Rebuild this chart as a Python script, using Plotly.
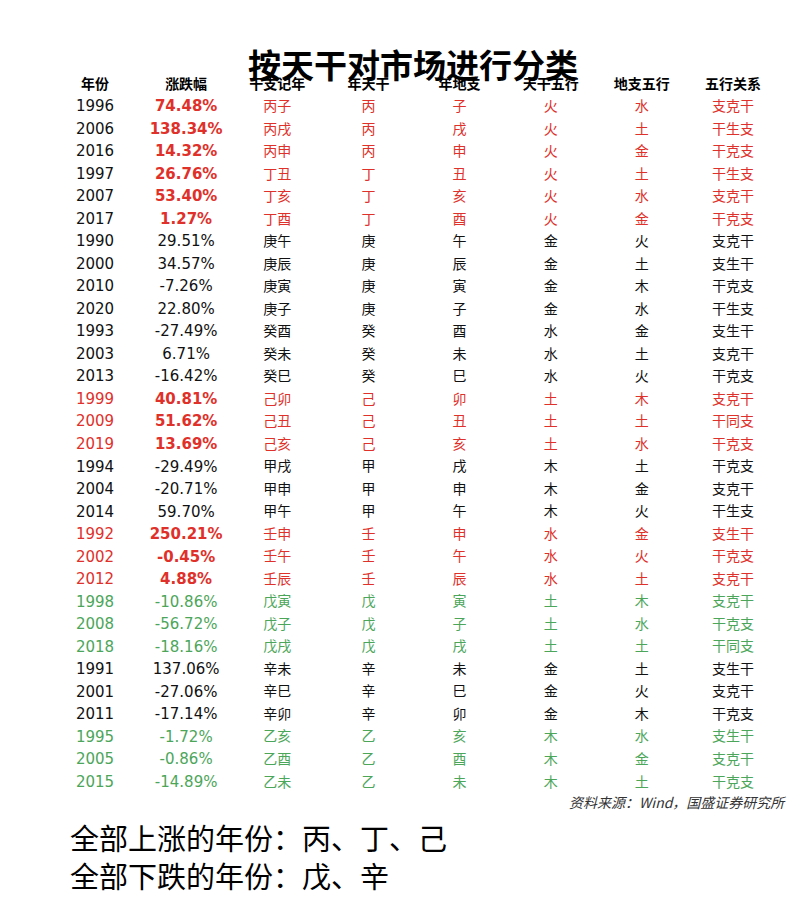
import plotly.graph_objects as go

headers = ["年份", "涨跌幅", "干支记年", "年天干", "年地支", "天干五行", "地支五行", "五行关系"]
years = [1996, 2006, 2016, 1997, 2007, 2017, 1990, 2000, 2010, 2020, 1993, 2003, 2013,
         1999, 2009, 2019, 1994, 2004, 2014, 1992, 2002, 2012, 1998, 2008, 2018,
         1991, 2001, 2011, 1995, 2005, 2015]
changes = ["74.48%", "138.34%", "14.32%", "26.76%", "53.40%", "1.27%", "29.51%", "34.57%",
           "-7.26%", "22.80%", "-27.49%", "6.71%", "-16.42%", "40.81%", "51.62%", "13.69%",
           "-29.49%", "-20.71%", "59.70%", "250.21%", "-0.45%", "4.88%", "-10.86%", "-56.72%",
           "-18.16%", "137.06%", "-27.06%", "-17.14%", "-1.72%", "-0.86%", "-14.89%"]
ganzhi = ["丙子", "丙戌", "丙申", "丁丑", "丁亥", "丁酉", "庚午", "庚辰", "庚寅", "庚子", "癸酉",
          "癸未", "癸巳", "己卯", "己丑", "己亥", "甲戌", "甲申", "甲午", "壬申", "壬午", "壬辰",
          "戊寅", "戊子", "戊戌", "辛未", "辛巳", "辛卯", "乙亥", "乙酉", "乙未"]
tg_wx = ["火", "火", "火", "火", "火", "火", "金", "金", "金", "金", "水", "水", "水", "土", "土",
         "土", "木", "木", "木", "水", "水", "水", "土", "土", "土", "金", "金", "金", "木", "木", "木"]
dz_wx = ["水", "土", "金", "土", "水", "金", "火", "土", "木", "水", "金", "土", "火", "木", "土",
         "水", "土", "金", "火", "金", "火", "土", "木", "水", "土", "土", "火", "木", "水", "金", "土"]
relation = ["支克干", "干生支", "干克支", "干生支", "支克干", "干克支", "支克干", "支生干", "干克支",
            "干生支", "支生干", "支克干", "干克支", "支克干", "干同支", "干克支", "干克支", "支克干",
            "干生支", "支生干", "干克支", "支克干", "支克干", "干克支", "干同支", "支生干", "支克干",
            "干克支", "支生干", "支克干", "干克支"]
# row group colour: r = red, g = green, k = black
groups = ["r"] * 6 + ["k"] * 7 + ["r"] * 3 + ["k"] * 3 + ["r"] * 3 + ["g"] * 3 + ["k"] * 3 + ["g"] * 3

RED, GREEN, BLACK = "#e0302a", "#4ca65a", "#111111"
cmap = {"r": RED, "g": GREEN, "k": BLACK}
row_col = [cmap[g] for g in groups]
year_col = [RED if (g == "r" and i >= 13) else (GREEN if g == "g" else BLACK) for i, g in enumerate(groups)]
chg_txt = [f"<b>{c}</b>" if g == "r" else c for c, g in zip(changes, groups)]

cols = [[str(y) for y in years], chg_txt, ganzhi, [s[0] for s in ganzhi], [s[1] for s in ganzhi],
        tg_wx, dz_wx, relation]
colors = [year_col, row_col] + [row_col] * 6
rows = list(range(1, len(years) + 1))

W, H = 810, 922
fig = go.Figure()
for j, h in enumerate(headers):
    fig.add_trace(go.Scatter(x=[j], y=[0], mode="text", text=[f"<b>{h}</b>"], hoverinfo="skip",
                             textfont=dict(family="Noto Sans CJK SC", size=14, color="black")))
    latin = j < 2
    fig.add_trace(go.Scatter(x=[j] * len(rows), y=rows, mode="text", text=cols[j], hoverinfo="skip",
                             textfont=dict(family="DejaVu Sans" if latin else "Noto Sans CJK SC",
                                           size=15 if latin else 14, color=colors[j])))

ux = (725 - 87) / 7
uy = (775 - 77) / 31
fig.update_xaxes(range=[-87 / ux, (W - 87) / ux], visible=False, fixedrange=True)
fig.update_yaxes(range=[(H - 77) / uy, -77 / uy], visible=False, fixedrange=True)

fig.add_annotation(x=0.5, y=1 - 30 / H, xref="paper", yref="paper", showarrow=False,
                   text="<b>按天干对市场进行分类</b>",
                   font=dict(family="Noto Sans CJK SC", size=33, color="black"))
fig.add_annotation(x=780 / W, y=1 - 806 / H, xref="paper", yref="paper", showarrow=False,
                   xanchor="right", text="<i>资料来源：Wind，国盛证券研究所</i>",
                   font=dict(family="Noto Sans CJK SC", size=14, color="#333333"))
for yy, t in [(852, "全部上涨的年份：丙、丁、己"), (890, "全部下跌的年份：戊、辛")]:
    fig.add_annotation(x=60 / W, y=1 - yy / H, xref="paper", yref="paper", showarrow=False,
                       xanchor="left", text=t,
                       font=dict(family="Noto Sans CJK SC", size=29, color="black"))
fig.update_layout(width=W, height=H, margin=dict(l=0, r=0, t=0, b=0), showlegend=False,
                  paper_bgcolor="white", plot_bgcolor="white")
fig.write_html("out.html")
